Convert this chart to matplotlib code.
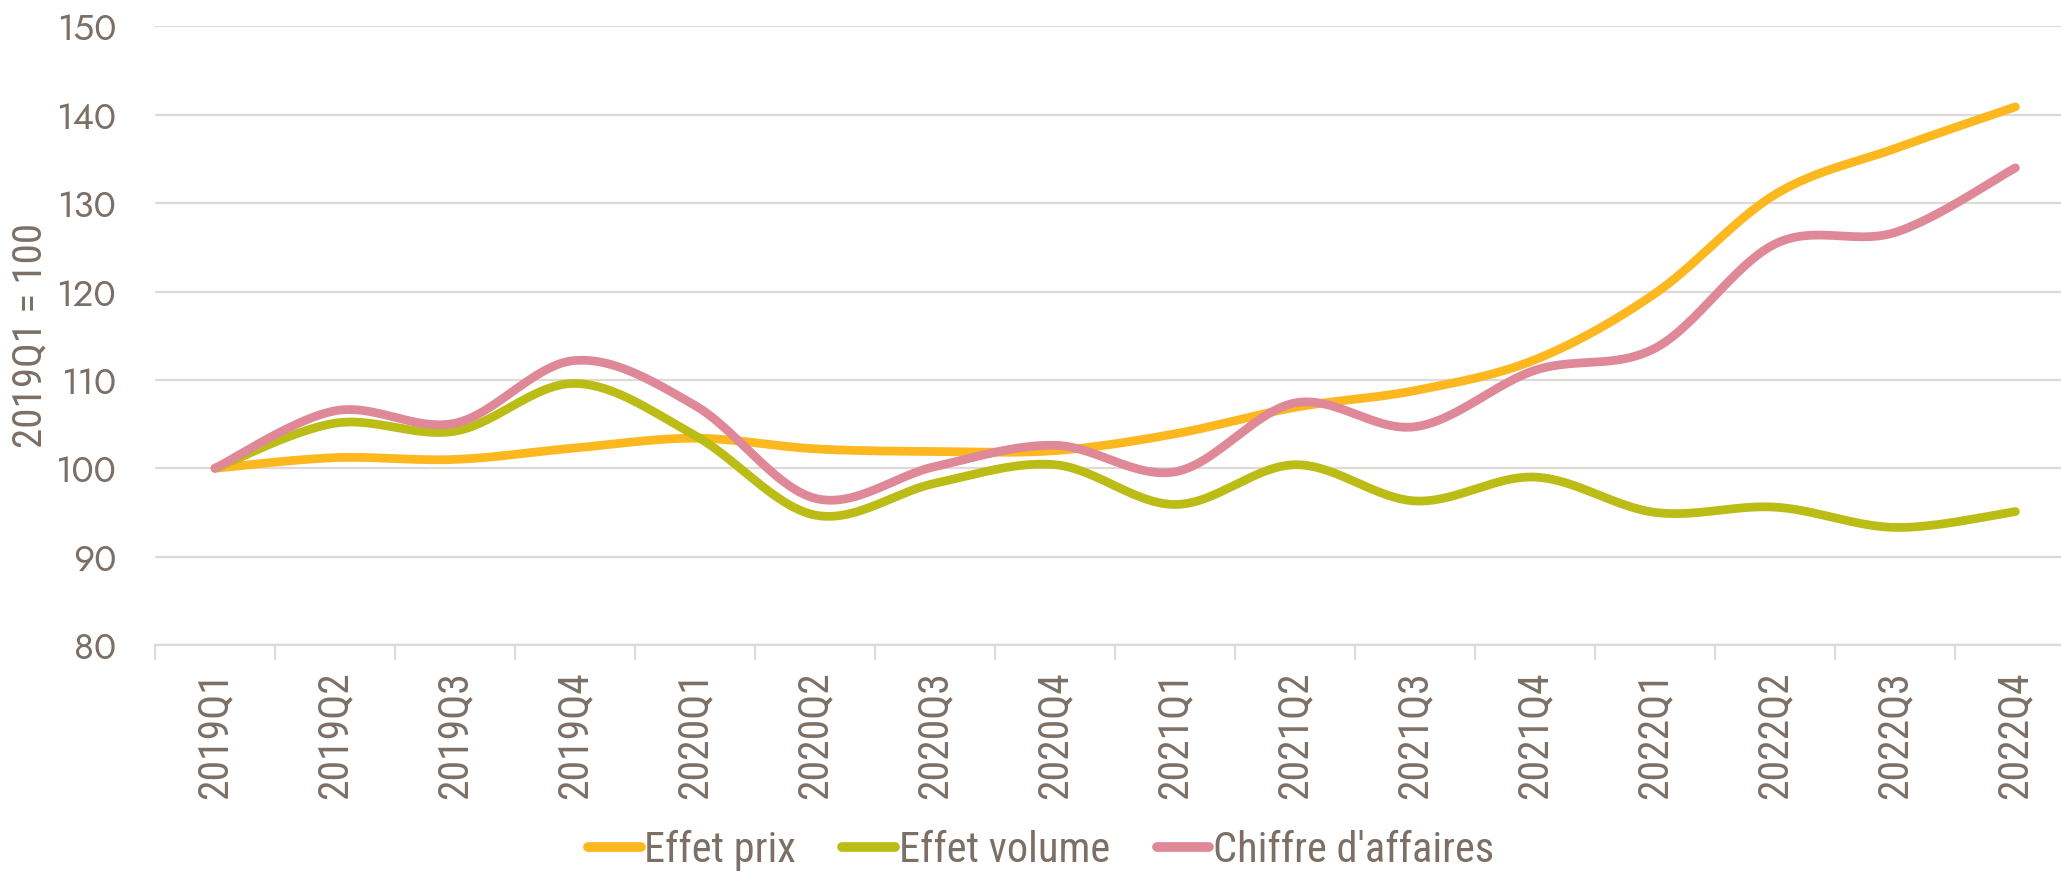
import numpy as np
import matplotlib
matplotlib.use("Agg")
import matplotlib.pyplot as plt
from matplotlib import font_manager as fm
from matplotlib.ticker import FixedLocator

# data (2019Q1 = 100)
quarters = ["2019Q1", "2019Q2", "2019Q3", "2019Q4",
            "2020Q1", "2020Q2", "2020Q3", "2020Q4",
            "2021Q1", "2021Q2", "2021Q3", "2021Q4",
            "2022Q1", "2022Q2", "2022Q3", "2022Q4"]
effet_prix = [100, 101.2, 101.0, 102.3, 103.4, 102.2, 101.9, 102.0,
              103.9, 106.9, 108.8, 112.3, 119.8, 131.0, 136.2, 140.9]
effet_volume = [100, 105.1, 104.2, 109.6, 103.7, 94.7, 98.3, 100.4,
                95.9, 100.4, 96.3, 99.0, 95.0, 95.6, 93.3, 95.1]
chiffre_affaires = [100, 106.5, 105.1, 112.2, 107.1, 96.6, 100.2, 102.6,
                    99.6, 107.4, 104.7, 111.1, 113.6, 125.4, 126.7, 134.0]

series = [("Effet prix", effet_prix, "#FDB71F"),
          ("Effet volume", effet_volume, "#BBBD16"),
          ("Chiffre d'affaires", chiffre_affaires, "#DF8898")]

TXT = "#7B6F66"
GRID = "#DEDAD7"

installed = set(f.name for f in fm.fontManager.ttflist)


def pick(cands):
    for c in cands:
        if c in installed:
            return c
    return "DejaVu Sans"


NARROW = pick(["Roboto Condensed", "Liberation Sans Narrow", "Arial Narrow",
               "Archivo Narrow", "PT Sans Narrow", "Open Sans Condensed", "Pragati Narrow"])
GEO = pick(["Jost", "Futura", "Poppins", "Lato"])


def smooth(xs, ys, n=30):
    """Excel-like smoothed line: cubic bezier through the points (Catmull-Rom)"""
    xs = np.asarray(xs, float)
    ys = np.asarray(ys, float)
    px = np.concatenate([[xs[0]], xs, [xs[-1]]])
    py = np.concatenate([[ys[0]], ys, [ys[-1]]])
    out_x, out_y = [], []
    t = np.linspace(0, 1, n)
    for i in range(1, len(px) - 2):
        p0 = np.array([px[i], py[i]])
        p3 = np.array([px[i + 1], py[i + 1]])
        c1 = p0 + (np.array([px[i + 1], py[i + 1]]) - np.array([px[i - 1], py[i - 1]])) / 6
        c2 = p3 - (np.array([px[i + 2], py[i + 2]]) - np.array([px[i], py[i]])) / 6
        b = ((1 - t) ** 3)[:, None] * p0 + (3 * (1 - t) ** 2 * t)[:, None] * c1 \
            + (3 * (1 - t) * t ** 2)[:, None] * c2 + (t ** 3)[:, None] * p3
        out_x.extend(b[:, 0])
        out_y.extend(b[:, 1])
    return out_x, out_y


fig = plt.figure(figsize=(20.61, 8.71), dpi=100)
ax = fig.add_axes([0.0752, 0.2595, 1 - 0.0752, 0.9696 - 0.2595])

x = np.arange(len(quarters))
for name, vals, col in series:
    sx, sy = smooth(x, vals)
    ax.plot(sx, sy, color=col, lw=6.3, solid_capstyle="round", label=name, zorder=3)

ax.set_ylim(80, 150)
ax.set_yticks(range(80, 151, 10))
ax.set_xlim(-0.5, 15.38)
ax.set_xticks(x)
ax.set_xticklabels(quarters, rotation=90, family=NARROW,
                   fontsize=30, color=TXT)
ax.xaxis.set_minor_locator(FixedLocator(np.arange(-0.5, 16, 1)))
ax.tick_params(axis="x", which="major", length=0, pad=19)
ax.tick_params(axis="x", which="minor", length=11, width=1.6, color=GRID)
ax.tick_params(axis="y", length=0, pad=28, labelsize=26.5, labelcolor=TXT)
for lab in ax.get_yticklabels():
    lab.set_family(GEO)

ax.grid(axis="y", color=GRID, lw=1.6, zorder=0)
for s in ["top", "right", "left"]:
    ax.spines[s].set_visible(False)
ax.spines["bottom"].set_color(GRID)
ax.spines["bottom"].set_linewidth(1.6)

fig.text(0.0145, 0.615, "2019Q1 = 100", rotation=90, ha="center", va="center",
         family=NARROW, fontsize=29.5, color=TXT)

leg = fig.legend(loc="center", bbox_to_anchor=(0.505, 0.024), ncol=3, frameon=False,
                 prop={"family": NARROW, "size": 30.5},
                 handlelength=1.25, handletextpad=0.08, columnspacing=1.1)
for t in leg.get_texts():
    t.set_color(TXT)
for h in leg.get_lines():
    h.set_linewidth(7)
    h.set_solid_capstyle("round")

fig.savefig("out.png", dpi=100)
